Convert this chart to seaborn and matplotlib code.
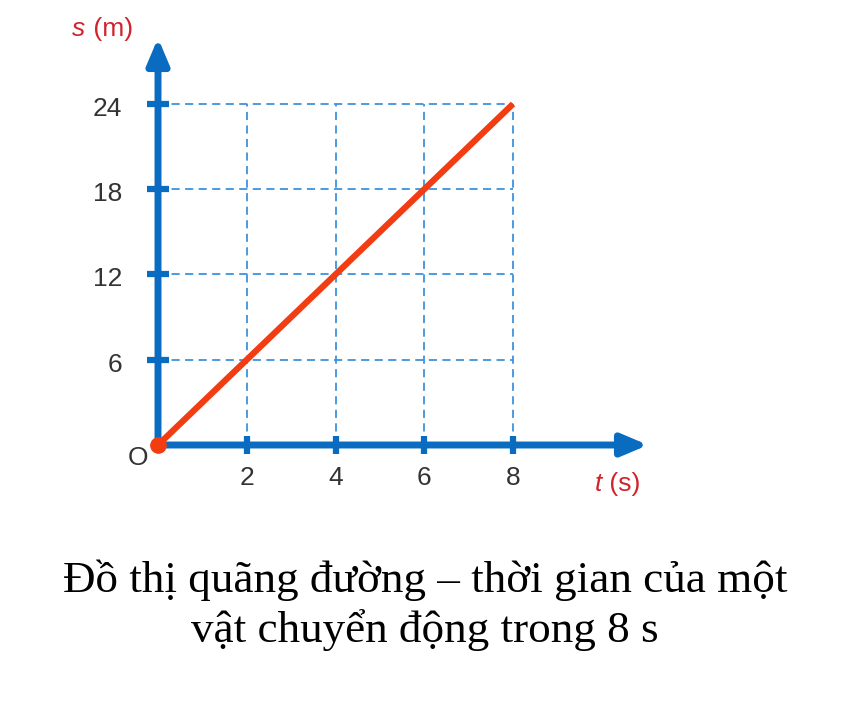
import matplotlib
matplotlib.use("Agg")
import matplotlib.pyplot as plt
import seaborn as sns
import pandas as pd

# data
t_values = [0, 2, 4, 6, 8]
s_values = [0, 6, 12, 18, 24]
x_ticks = [2, 4, 6, 8]
y_ticks = [6, 12, 18, 24]
x_label = "t"
x_unit = " (s)"
y_label = "s"
y_unit = " (m)"
caption_lines = ["Đồ thị quãng đường – thời gian của một",
                 "vật chuyển động trong 8 s"]

AXIS_BLUE = "#0a6cc0"
GRID_BLUE = "#3d92de"
LINE_RED = "#f23c12"
LABEL_RED = "#d1232b"
TICK_GREY = "#333333"

sns.set_theme(style="white")
plt.rcParams["font.family"] = ["Liberation Sans", "DejaVu Sans"]

fig = plt.figure(figsize=(8.52, 7.12), dpi=100)
ax = fig.add_axes([158 / 852, 1 - 445 / 712, 490 / 852, 407 / 712])
x_max = 490 / 44.375
y_max = 407 / 14.21
ax.set_xlim(0, x_max)
ax.set_ylim(0, y_max)

# dashed grid up to the end of the line
dash = (0, (4.5, 3))
for xt in x_ticks:
    ax.plot([xt, xt], [0, max(s_values)], ls=dash, lw=1.3, color=GRID_BLUE, zorder=1)
for yt in y_ticks:
    ax.plot([0, max(t_values)], [yt, yt], ls=dash, lw=1.3, color=GRID_BLUE, zorder=1)

# axes with arrows
arrow = dict(arrowstyle="-|>,head_length=1.3,head_width=0.55", color=AXIS_BLUE, lw=5,
             shrinkA=0, shrinkB=0)
ax.annotate("", xy=(x_max, 0), xytext=(0, 0), arrowprops=arrow, annotation_clip=False, zorder=2)
ax.annotate("", xy=(0, y_max), xytext=(0, 0), arrowprops=arrow, annotation_clip=False, zorder=2)

# tick marks and labels
for xt in x_ticks:
    ax.plot([xt, xt], [-0.65, 0.65], color=AXIS_BLUE, lw=4.5, solid_capstyle="butt", clip_on=False, zorder=3)
    ax.text(xt, -2.3, str(xt), ha="center", va="center", fontsize=19, color=TICK_GREY)
for yt in y_ticks:
    ax.plot([-0.24, 0.24], [yt, yt], color=AXIS_BLUE, lw=4.5, solid_capstyle="butt", clip_on=False, zorder=3)
    ax.text(-0.8, yt - 0.35, str(yt), ha="right", va="center", fontsize=19, color=TICK_GREY)

ax.text(-0.45, -0.95, "O", ha="center", va="center", fontsize=19, color=TICK_GREY)

# motion line
df = pd.DataFrame({"t": t_values, "s": s_values})
sns.lineplot(data=df, x="t", y="s", ax=ax, color=LINE_RED, lw=4.5, zorder=4,
             solid_capstyle="butt")
ax.plot([0], [0], "o", ms=11, color=LINE_RED, clip_on=False, zorder=5)
ax.axis("off")

# axis labels
sl = ax.text(-1.93, y_max + 0.6, y_label, ha="left", va="center", fontsize=19,
             color=LABEL_RED, style="italic")
ax.annotate(y_unit, xy=(1, 0.5), xycoords=sl, ha="left", va="center", fontsize=19, color=LABEL_RED)
tl = ax.text(9.85, -2.75, x_label, ha="left", va="center", fontsize=19,
             color=LABEL_RED, style="italic")
ax.annotate(x_unit, xy=(1, 0.5), xycoords=tl, ha="left", va="center", fontsize=19, color=LABEL_RED)

for i, line in enumerate(caption_lines):
    fig.text(425 / 852, 1 - (592 + 50 * i) / 712, line, ha="center", va="baseline", fontsize=32.5,
             family=["Liberation Serif", "DejaVu Serif"], color="black")

fig.savefig("out.png", dpi=100, facecolor="white")
